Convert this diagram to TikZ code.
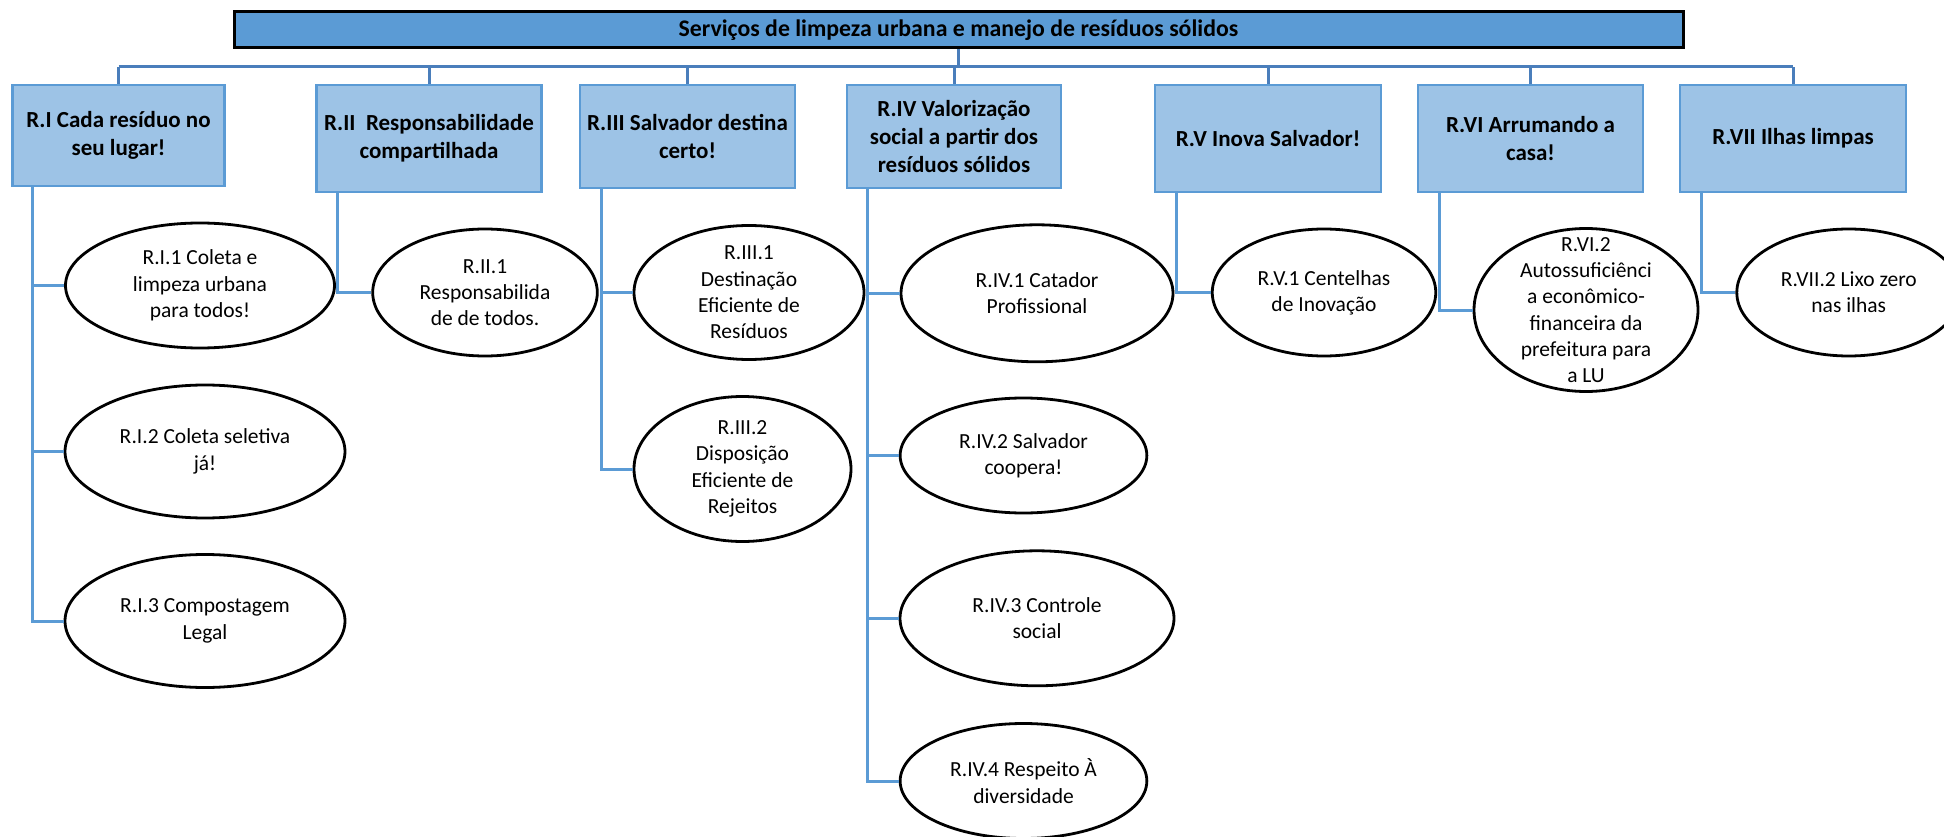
\documentclass[tikz,border=0pt]{standalone}
\usepackage{fontspec}
\setmainfont{Carlito}
\usetikzlibrary{shapes.geometric}
\definecolor{boxfill}{HTML}{9DC3E6}
\definecolor{boxline}{HTML}{5B9BD5}
\definecolor{topfill}{HTML}{5B9BD5}
\definecolor{busline}{HTML}{4A7EBB}
\definecolor{kidline}{HTML}{5B9BD5}
\begin{document}
\begin{tikzpicture}[x=1pt,y=-1pt,
  topbox/.style={draw=black, line width=3pt, fill=topfill, inner sep=0pt, font=\fontsize{23.8}{28}\selectfont\bfseries},
  catbox/.style={draw=boxline, line width=2.6pt, fill=boxfill, inner sep=0pt, align=center, font=\fontsize{23}{28}\selectfont\bfseries},
  ell/.style={draw=black, line width=2.8pt, fill=white, ellipse, inner sep=0pt},
  etext/.style={align=center, inner sep=0pt, font=\fontsize{21.5}{26.3}\selectfont},
  bus/.style={draw=busline, line width=3pt},
  kid/.style={draw=kidline, line width=3pt},
]
\useasboundingbox (0,0) rectangle (1944,837);

% top box
\node[topbox, minimum width=1449pt, minimum height=36pt] (top) at (958.5,30) {Serviços de limpeza urbana e manejo de resíduos sólidos};

% category boxes
\node[catbox, minimum width=212pt, minimum height=101pt] (rI) at (118.5,135.5) {R.I Cada resíduo no\\seu lugar!};
\node[catbox, minimum width=224.5pt, minimum height=107pt] (rII) at (429,138.5) {R.II\ \ Responsabilidade\\compartilhada};
\node[catbox, minimum width=215pt, minimum height=103pt] (rIII) at (687.5,136.5) {R.III Salvador destina\\certo!};
\node[catbox, minimum width=214pt, minimum height=103pt] (rIV) at (954,136.5) {R.IV Valorização\\social a partir dos\\resíduos sólidos};
\node[catbox, minimum width=226pt, minimum height=107pt] (rV) at (1268,138.5) {R.V Inova Salvador!};
\node[catbox, minimum width=225pt, minimum height=107pt] (rVI) at (1530.5,138.5) {R.VI Arrumando a\\casa!};
\node[catbox, minimum width=226pt, minimum height=107pt] (rVII) at (1793,138.5) {R.VII Ilhas limpas};

% bus
\coordinate (busL) at (118.5,67);
\coordinate (busR) at (1793,67);
\draw[bus] (busL) -- (busR);
\draw[bus] (top.south) -- (top.south |- busL);
\foreach \b in {rI,rII,rIII,rIV,rV,rVI,rVII}{
  \draw[bus] (\b.north) -- (\b.north |- busL);
}

% ellipses
\node[ell, minimum width=269pt, minimum height=125pt] (r11) at (200,285.5) {};
\node[etext] (r11t) at (r11) {R.I.1 Coleta e\\limpeza urbana\\para todos!};
\node[ell, minimum width=280pt, minimum height=133pt] (r12) at (205,451.5) {};
\node[etext] (r12t) at (r12) {R.I.2 Coleta seletiva\\já!};
\node[ell, minimum width=280pt, minimum height=133pt] (r13) at (205,621) {};
\node[etext] (r13t) at (r13) {R.I.3 Compostagem\\Legal};

\node[ell, minimum width=224.6pt, minimum height=127pt] (r21) at (485,292.5) {};
\node[etext] (r21t) at (r21) {R.II.1\\Responsabilida\\de de todos.};

\node[ell, minimum width=230pt, minimum height=134pt] (r31) at (749,292.5) {};
\node[etext] (r31t) at (r31) {R.III.1\\Destinação\\Eficiente de\\Resíduos};
\node[ell, minimum width=217pt, minimum height=145pt] (r32) at (742.5,469) {};
\node[etext] (r32t) at (r32) {R.III.2\\Disposição\\Eficiente de\\Rejeitos};

\node[ell, minimum width=272pt, minimum height=137pt] (r41) at (1037,293.3) {};
\node[etext] (r41t) at (r41) {R.IV.1 Catador\\Profissional};
\node[ell, minimum width=246.7pt, minimum height=115pt] (r42) at (1023.5,455.5) {};
\node[etext] (r42t) at (r42) {R.IV.2 Salvador\\coopera!};
\node[ell, minimum width=274pt, minimum height=135pt] (r43) at (1037,618.3) {};
\node[etext] (r43t) at (r43) {R.IV.3 Controle\\social};
\node[ell, minimum width=246.7pt, minimum height=115pt] (r44) at (1023.5,781) {};
\node[etext] (r44t) at (r44) {R.IV.4 Respeito À\\diversidade};

\node[ell, minimum width=223.5pt, minimum height=127pt] (r51) at (1324,292.5) {};
\node[etext] (r51t) at (r51) {R.V.1 Centelhas\\de Inovação};

\node[ell, minimum width=224pt, minimum height=163pt] (r62) at (1586,310) {};
\node[etext] (r62t) at (r62) {R.VI.2\\Autossuficiênci\\a econômico-\\financeira da\\prefeitura para\\a LU};

\node[ell, minimum width=224pt, minimum height=127pt] (r72) at (1848.8,292.5) {};
\node[etext] (r72t) at (r72) {R.VII.2 Lixo zero\\nas ilhas};

% child connectors
\foreach \c in {r11,r12,r13}{\draw[kid] ([xshift=21pt]rI.south west) |- (\c.west);}
\draw[kid] ([xshift=22pt]rII.south west) |- (r21.west);
\foreach \c in {r31,r32}{\draw[kid] ([xshift=22.7pt]rIII.south west) |- (\c.west);}
\foreach \c in {r41,r42,r43,r44}{\draw[kid] ([xshift=22pt]rIV.south west) |- (\c.west);}
\draw[kid] ([xshift=23pt]rV.south west) |- (r51.west);
\draw[kid] ([xshift=22.5pt]rVI.south west) |- (r62.west);
\draw[kid] ([xshift=23pt]rVII.south west) |- (r72.west);
\end{tikzpicture}
\end{document}
